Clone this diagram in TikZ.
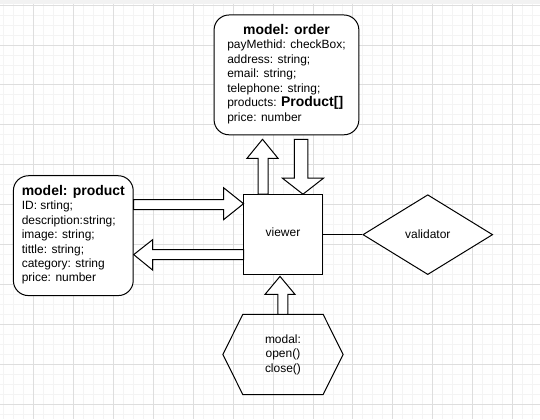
\documentclass[tikz,border=0pt]{standalone}
\usepackage{fontspec}
\setmainfont{Liberation Sans}
\usetikzlibrary{shapes.geometric,calc,positioning}
\definecolor{gridminor}{HTML}{F4F4F4}
\definecolor{gridmajor}{HTML}{DEDEDE}
\newcommand{\modeltitle}[1]{{\fontsize{14}{16}\selectfont\bfseries #1}}

\begin{document}
\begin{tikzpicture}
  [
    x=1pt, y=-1pt,
    Model/.style={rectangle, rounded corners=15pt, draw=black, fill=white, line width=1pt, minimum width=145pt, minimum height=120pt, inner sep=0pt, font=\fontsize{12}{14.5}\selectfont},
    Square/.style={rectangle, draw=black, fill=white, line width=1pt, minimum size=80pt, inner sep=0pt, font=\fontsize{12}{14.5}\selectfont},
    Check/.style={diamond, draw=black, fill=white, line width=1pt, minimum width=130pt, minimum height=80pt, aspect=1.625, inner sep=0pt, font=\fontsize{12}{14.5}\selectfont},
    Hexa/.style={rectangle, minimum width=120pt, minimum height=80pt, inner sep=0pt, align=center, font=\fontsize{12}{14.5}\selectfont},
    BlockArrow/.style={draw=black, fill=white, line width=1pt, line join=miter},
    Link/.style={draw=black, line width=1pt}
  ]
  % Grid
  \fill[black!5] (0,0) rectangle (540,4);
  \foreach \x in {3,13,...,533} \draw[gridminor, line width=0.8pt] (\x,4) -- (\x,420);
  \foreach \y in {5,15,...,415} \draw[gridminor, line width=0.8pt] (0,\y) -- (540,\y);
  \foreach \x in {33,73,...,513} \draw[gridmajor, line width=0.8pt] (\x,4) -- (\x,420);
  \foreach \y in {5,45,...,405} \draw[gridmajor, line width=0.8pt] (0,\y) -- (540,\y);
  \useasboundingbox (0,0) rectangle (540,420);

  % Nodes
  \node[Model] (order) at (286.5, 75) {\begin{tabular}{@{}l@{}}
      \multicolumn{1}{c}{\modeltitle{model: order}}\\
      payMethid: checkBox;\\
      address: string;\\
      email: string;\\
      telephone: string;\\
      products: \modeltitle{Product[]}\\
      price: number
    \end{tabular}};

  \node[Model, minimum width=120pt] (product) at (73, 236) {\begin{tabular}{@{}l@{}}
      \modeltitle{model: product}\\
      ID: srting;\\
      description:string;\\
      image: string;\\
      tittle: string;\\
      category: string\\
      price: number
    \end{tabular}};

  \node[Square] (viewer) at (283, 235) {\raisebox{6pt}{viewer}};

  \node[Check] (validator) at (428, 235) {validator};

  \node[Hexa] (modal) at (283, 355) {modal:\\open()\\close()};
  \draw[Link] ([xshift=20pt]modal.north west) -- ([xshift=-20pt]modal.north east)
    -- (modal.east) -- ([xshift=-20pt]modal.south east)
    -- ([xshift=20pt]modal.south west) -- (modal.west) -- cycle;

  % Lines
  \draw[Link] (viewer.east) -- (validator.west);

  \draw[BlockArrow] ([xshift=-25pt]viewer.north) -- ++(0,-36) -- ++(-11,0) -- ++(15.5,-19)
    -- ++(15.5,19) -- ++(-10,0) -- ++(0,36) -- cycle;
  \draw[BlockArrow] ([xshift=20pt]viewer.north) -- ++(-20.5,-16) -- ++(12,0) -- ++(0,-39)
    -- ++(13.5,0) -- ++(0,39) -- ++(15.5,0) -- cycle;
  \draw[BlockArrow] ([yshift=36pt]product.east) -- ++(90,0) -- ++(0,-12) -- ++(20,16)
    -- ++(-20,16) -- ++(0,-10) -- ++(-90,0) -- cycle;
  \draw[BlockArrow] ([yshift=-19pt]product.east) -- ++(19,-15) -- ++(0,10) -- ++(91,0)
    -- ++(0,10) -- ++(-91,0) -- ++(0,10.5) -- cycle;
  \draw[BlockArrow] ([xshift=-5pt]modal.north) -- ++(0,-20) -- ++(-13,0) -- ++(15,-18)
    -- ++(15,18) -- ++(-7,0) -- ++(0,20) -- cycle;

\end{tikzpicture}
\end{document}
